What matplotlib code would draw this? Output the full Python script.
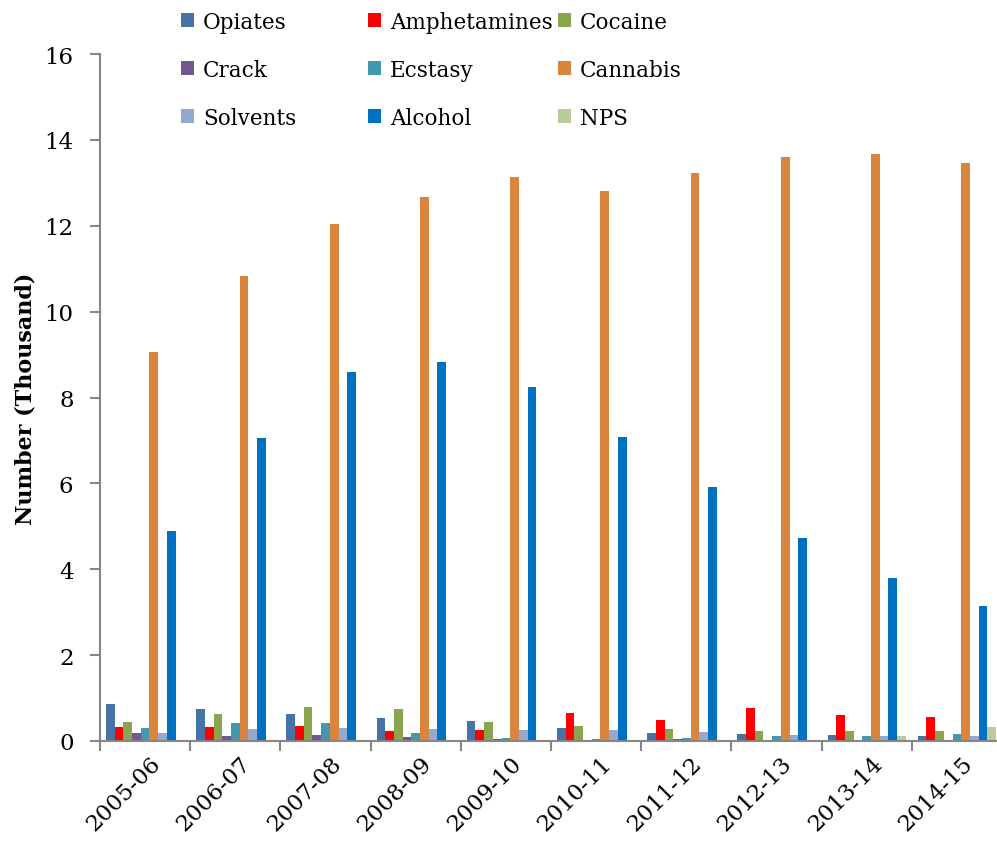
import matplotlib
matplotlib.use("Agg")
import matplotlib.pyplot as plt
import numpy as np

plt.rcParams['font.family'] = ['DejaVu Serif']

# Years on the category axis
years = ['2005-06', '2006-07', '2007-08', '2008-09', '2009-10',
         '2010-11', '2011-12', '2012-13', '2013-14', '2014-15']

# Numbers in thousands
opiates = [0.86, 0.74, 0.635, 0.53, 0.465, 0.31, 0.19, 0.16, 0.145, 0.12]
amphetamines = [0.33, 0.33, 0.356, 0.24, 0.26, 0.65, 0.50, 0.76, 0.595, 0.55]
cocaine = [0.435, 0.64, 0.79, 0.735, 0.44, 0.34, 0.285, 0.24, 0.24, 0.24]
crack = [0.18, 0.12, 0.146, 0.10, 0.05, 0.01, 0.04, 0.02, 0.01, 0.01]
ecstasy = [0.30, 0.42, 0.425, 0.19, 0.08, 0.05, 0.07, 0.12, 0.11, 0.155]
cannabis = [9.06, 10.84, 12.03, 12.66, 13.14, 12.81, 13.22, 13.60, 13.67, 13.47]
solvents = [0.19, 0.29, 0.30, 0.28, 0.26, 0.255, 0.22, 0.15, 0.12, 0.12]
alcohol = [4.90, 7.05, 8.60, 8.82, 8.25, 7.07, 5.91, 4.72, 3.79, 3.15]
nps = [0, 0, 0, 0, 0, 0, 0, 0, 0.11, 0.325]

series_names = ['Opiates', 'Amphetamines', 'Cocaine', 'Crack', 'Ecstasy',
                'Cannabis', 'Solvents', 'Alcohol', 'NPS']
series_values = [opiates, amphetamines, cocaine, crack, ecstasy,
                 cannabis, solvents, alcohol, nps]
colors = ['#4572A7', '#FF0000', '#89A54E', '#71588F', '#4198AF',
          '#DB843D', '#93A9CF', '#0070C0', '#B9CD96']

fig = plt.figure(figsize=(9.97, 8.45), dpi=100)
ax = fig.add_axes([100 / 997, 1 - 742 / 845, 902 / 997, 687 / 845])

x = np.arange(len(years))
w = 0.0963
handles = []
for j, (name, vals, c) in enumerate(zip(series_names, series_values, colors)):
    b = ax.bar(x + (j - 4) * w, vals, width=w, color=c, label=name, zorder=2)
    handles.append(b)

ax.set_xlim(-0.5, len(years) - 0.5)
ax.set_ylim(0, 16)
ax.set_yticks(np.arange(0, 17, 2))

# category labels at the centre, tick marks between the groups
ax.set_xticks(x + 0.05)
ax.set_xticklabels(years, rotation=45, ha='right', rotation_mode='anchor',
                   fontsize=16.5)
ax.set_xticks(np.arange(-0.5, len(years), 1), minor=True)
ax.tick_params(axis='x', which='major', length=0, pad=8)
ax.tick_params(axis='x', which='minor', length=7, color='#868686', width=1.5)
ax.tick_params(axis='y', length=7, color='#868686', width=1.5, pad=12,
               labelsize=16.5)

for s in ['top', 'right']:
    ax.spines[s].set_visible(False)
for s in ['left', 'bottom']:
    ax.spines[s].set_color('#868686')
    ax.spines[s].set_linewidth(1.5)

ax.set_ylabel('Number (Thousand)', fontsize=16, fontweight='bold', labelpad=6)

# legend laid out in three columns, row by row
col_x = [181, 368, 558]
for k in range(3):
    idx = [k, k + 3, k + 6]
    fig.legend([handles[i] for i in idx], [series_names[i] for i in idx],
               loc='upper left', bbox_to_anchor=(col_x[k] / 997, 1 - 12 / 845),
               frameon=False, fontsize=15.5, borderpad=0, borderaxespad=0,
               handlelength=0.62, handleheight=0.62, handletextpad=0.4,
               labelspacing=1.2)

plt.savefig('out.png', dpi=100)
